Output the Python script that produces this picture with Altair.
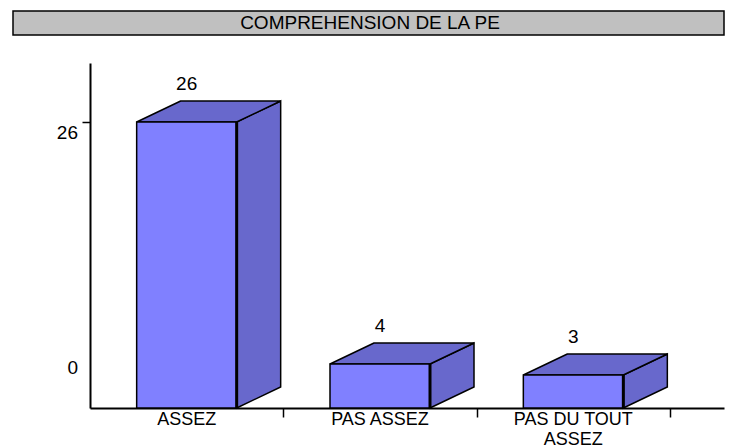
import altair as alt
import pandas as pd

# ---- data ----
categories = ["ASSEZ", "PAS ASSEZ", "PAS DU TOUT ASSEZ"]
axis_labels = ["ASSEZ", "PAS ASSEZ", "PAS DU TOUT\nASSEZ"]
values = [26, 4, 3]
y_tick_values = [26]
y_label_high = [26]
y_label_low = [0]
title_text = "COMPREHENSION DE LA PE"

# ---- geometry / style ----
W, H = 634, 345
STEP_PX = 580 / 3
X_MAX = W / STEP_PX
UNIT_PX = 11.0
Y_MAX = H / UNIT_PX
BAR = 100 / STEP_PX
DX = 44 / STEP_PX
DY = 21 / UNIT_PX
FRONT = "#8080ff"
SIDE = "#6868cc"
FONT = "Liberation Sans"
FS = 19
FS_CAT = 18

xs = alt.Scale(domain=[0, X_MAX], nice=False, zero=False)
ys = alt.Scale(domain=[0, Y_MAX], nice=False, zero=False)
xaxis = alt.Axis(values=[1, 2, 3], labels=False, title=None, grid=False,
                 tickSize=9, tickColor="black", tickWidth=1.5,
                 domainColor="black", domainWidth=2)
yaxis = alt.Axis(values=y_tick_values, labels=False, title=None, grid=False,
                 tickSize=8, tickColor="black", tickWidth=1.5,
                 domainColor="black", domainWidth=2)


def X(f):
    return alt.X(f, type="quantitative", scale=xs, axis=xaxis)


def Y(f):
    return alt.Y(f, type="quantitative", scale=ys, axis=yaxis)


front_rows, side_rows, top_rows, lab_rows = [], [], [], []
for i, (c, v, lab) in enumerate(zip(categories, values, axis_labels)):
    L = i + 0.5 - BAR / 2
    R = i + 0.5 + BAR / 2
    front_rows.append({"cat": c, "v": v, "L": L, "R": R, "mid": i + 0.5})
    side_rows.append({"cat": c, "x": R, "y": v, "y2": 0})
    side_rows.append({"cat": c, "x": R + DX, "y": v + DY, "y2": DY})
    top_rows.append({"cat": c, "y": v, "x": L, "x2": R})
    top_rows.append({"cat": c, "y": v + DY, "x": L + DX, "x2": R + DX})
    lab_rows.append({"cat": c, "lab": lab, "mid": i + 0.5, "zero": 0})

front = pd.DataFrame(front_rows)
side = pd.DataFrame(side_rows)
top = pd.DataFrame(top_rows)
labs = pd.DataFrame(lab_rows)

side_layer = alt.Chart(side).mark_area(
    color=SIDE, stroke="black", strokeWidth=1.5, opacity=1
).encode(x=X("x"), y=Y("y"), y2="y2", detail="cat:N")

top_layer = alt.Chart(top).mark_area(
    orient="horizontal", color=SIDE, stroke="black", strokeWidth=1.5, opacity=1
).encode(y=Y("y"), x=X("x"), x2="x2", detail="cat:N")

front_layer = alt.Chart(front).mark_rect(
    color=FRONT, stroke="black", strokeWidth=1.5
).encode(x=X("L"), x2="R", y=Y("v"), y2=alt.Y2(datum=0))

edge_layer = alt.Chart(front).mark_rule(color="black", strokeWidth=3).encode(
    x=X("R"), y=Y("v"), y2=alt.Y2(datum=0)
)

value_text = alt.Chart(front).mark_text(
    font=FONT, fontSize=FS, dy=-38, color="black"
).encode(x=X("mid"), y=Y("v"), text="v:Q")

cat_text = alt.Chart(labs).mark_text(
    font=FONT, fontSize=FS_CAT, dy=12, color="black", lineBreak="\n",
    baseline="middle", lineHeight=20
).encode(x=X("mid"), y=Y("zero"), text="lab:N")

ylab_high = alt.Chart(pd.DataFrame({"t": y_label_high})).mark_text(
    font=FONT, fontSize=FS, align="right", baseline="middle", dy=11, color="black"
).encode(x=alt.value(-12), y=Y("t"), text="t:Q")

ylab_low = alt.Chart(pd.DataFrame({"t": y_label_low})).mark_text(
    font=FONT, fontSize=FS, align="right", baseline="middle", dy=-40, color="black"
).encode(x=alt.value(-12), y=Y("t"), text="t:Q")

title_box = alt.Chart(pd.DataFrame({"t": [title_text]})).mark_rect(
    fill="#c0c0c0", stroke="black", strokeWidth=1.5
).encode(x=alt.value(-77), x2=alt.value(634), y=alt.value(-52), y2=alt.value(-28))

title_txt = alt.Chart(pd.DataFrame({"t": [title_text]})).mark_text(
    font=FONT, fontSize=FS, align="center", baseline="middle", color="black"
).encode(x=alt.value(280), y=alt.value(-40), text="t:N")

chart = alt.layer(
    side_layer, top_layer, front_layer, edge_layer, value_text, cat_text,
    ylab_high, ylab_low, title_box, title_txt
).properties(
    width=W, height=H,
    autosize=alt.AutoSizeParams(type="none"),
    padding={"left": 82, "top": 55, "right": 1, "bottom": 40},
    background="white",
).configure_view(stroke=None)

chart.save("out.html", embed_options={"renderer": "svg", "actions": False})
